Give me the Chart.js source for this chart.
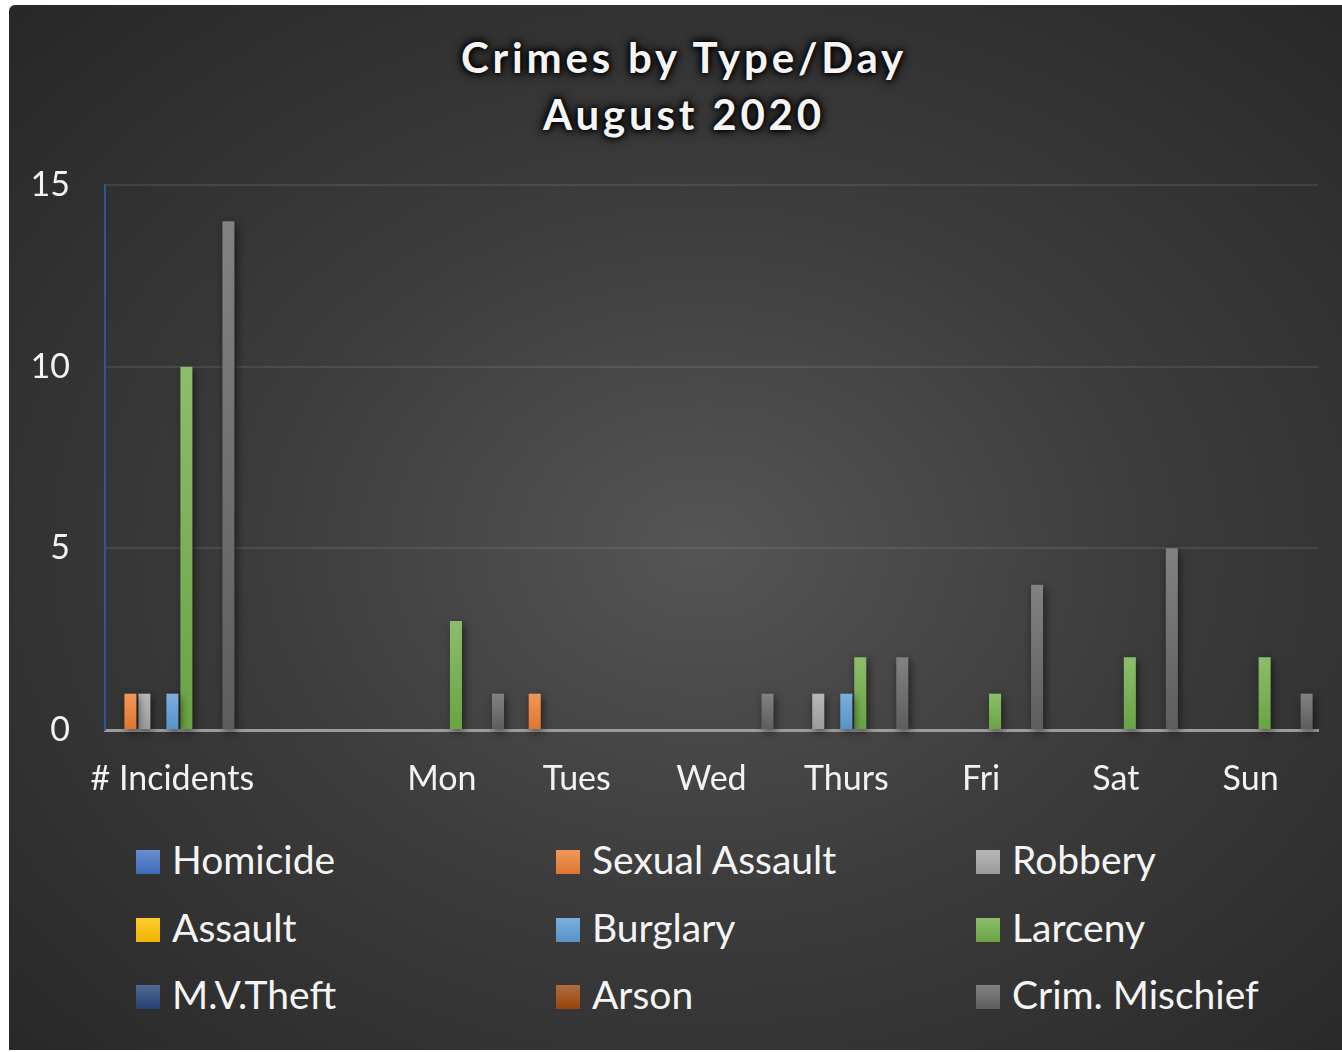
<!DOCTYPE html>
<html>
<head>
    <title>Crimes by Type/Day - August 2020</title>
    <meta charset="utf-8">
    <script src="https://cdn.jsdelivr.net/npm/chart.js"></script>
    <style>
        html, body {
            margin: 0;
            padding: 0;
            background: #ffffff;
        }

        body {
            position: relative;
            width: 1342px;
            height: 1052px;
            overflow: hidden;
            font-family: Lato, "Open Sans", sans-serif;
        }

        .panel {
            position: absolute;
            left: 9px;
            top: 5px;
            width: 1333px;
            height: 1045px;
            border-top-left-radius: 6px;
            background: radial-gradient(ellipse 75% 75% at 52% 52%, #555555 0%, #3c3c3c 45%, #262626 100%);
        }

        .title {
            position: absolute;
            left: 0;
            top: 29px;
            width: 1368px;
            text-align: center;
            color: #f4f4f4;
            font-weight: bold;
            font-size: 42px;
            line-height: 57px;
            letter-spacing: 3.8px;
            text-shadow: 0 0 5px #000, 0 0 9px #000, 0 0 12px rgba(0, 0, 0, 0.8);
        }

        #chart {
            position: absolute;
            left: 0;
            top: 0;
        }

        .legend {
            position: absolute;
            left: 136px;
            top: 826px;
            display: grid;
            grid-template-columns: 420px 420px 340px;
            color: #f4f4f4;
            font-size: 39px;
        }

        .legend .item {
            display: flex;
            align-items: baseline;
            line-height: 67.5px;
            white-space: nowrap;
        }

        .legend .box {
            display: inline-block;
            width: 24px;
            height: 24px;
            margin-right: 12px;
        }
    </style>
</head>
<body>
    <div class="panel"></div>
    <div class="title">Crimes by Type/Day<br>August 2020</div>
    <canvas id="chart" width="1342" height="820"></canvas>
    <div class="legend" id="legend"></div>

    <script>
        // categories (the second one is a blank row in the source sheet)
        var days = ['# Incidents', '', 'Mon', 'Tues', 'Wed', 'Thurs', 'Fri', 'Sat', 'Sun'];

        var seriesNames = ['Homicide', 'Sexual Assault', 'Robbery', 'Assault', 'Burglary',
                           'Larceny', 'M.V.Theft', 'Arson', 'Crim. Mischief'];

        var homicide      = [0, 0, 0, 0, 0, 0, 0, 0, 0];
        var sexualAssault = [1, 0, 0, 1, 0, 0, 0, 0, 0];
        var robbery       = [1, 0, 0, 0, 0, 1, 0, 0, 0];
        var assault       = [0, 0, 0, 0, 0, 0, 0, 0, 0];
        var burglary      = [1, 0, 0, 0, 0, 1, 0, 0, 0];
        var larceny       = [10, 0, 3, 0, 0, 2, 1, 2, 2];
        var mvTheft       = [0, 0, 0, 0, 0, 0, 0, 0, 0];
        var arson         = [0, 0, 0, 0, 0, 0, 0, 0, 0];
        var crimMischief  = [14, 0, 1, 0, 1, 2, 4, 5, 1];

        var yTicks = [0, 5, 10, 15];

        var seriesData = [homicide, sexualAssault, robbery, assault, burglary,
                          larceny, mvTheft, arson, crimMischief];
        var seriesColors = ['#4472C4', '#ED7D31', '#A5A5A5', '#FFC000', '#5B9BD5',
                            '#70AD47', '#264478', '#9E480E', '#636363'];

        function mix(hex, other, t) {
            var a = parseInt(hex.slice(1), 16), b = parseInt(other.slice(1), 16);
            var r = Math.round(((a >> 16) & 255) * (1 - t) + ((b >> 16) & 255) * t);
            var g = Math.round(((a >> 8) & 255) * (1 - t) + ((b >> 8) & 255) * t);
            var bl = Math.round((a & 255) * (1 - t) + (b & 255) * t);
            return 'rgb(' + r + ',' + g + ',' + bl + ')';
        }

        // light-to-dark fill on each bar, like the Office style
        function barFill(base) {
            return function (ctx) {
                var chart = ctx.chart, y = chart.scales.y;
                if (ctx.type !== 'data' || !y || !ctx.raw) return base;
                var top = y.getPixelForValue(ctx.raw), bottom = y.getPixelForValue(0);
                if (!(bottom > top)) return base;
                var g = chart.ctx.createLinearGradient(0, top, 0, bottom);
                g.addColorStop(0, mix(base, '#ffffff', 0.2));
                g.addColorStop(1, mix(base, '#000000', 0.06));
                return g;
            };
        }

        var barShadow = {
            id: 'barShadow',
            beforeDatasetsDraw: function (chart) {
                var c = chart.ctx;
                c.save();
                c.shadowColor = 'rgba(0,0,0,0.55)';
                c.shadowBlur = 8;
                c.shadowOffsetX = 2;
                c.shadowOffsetY = 3;
            },
            afterDatasetsDraw: function (chart) {
                chart.ctx.restore();
            }
        };

        var tickFont = { family: 'Lato, "Open Sans", sans-serif', size: 34 };

        var ctx = document.getElementById('chart').getContext('2d');
        var chart = new Chart(ctx, {
            type: 'bar',
            data: {
                labels: days,
                datasets: seriesNames.map(function (name, i) {
                    return {
                        label: name,
                        data: seriesData[i],
                        backgroundColor: barFill(seriesColors[i]),
                        borderWidth: 0,
                        categoryPercentage: 0.935,
                        barPercentage: 0.86,
                        clip: false
                    };
                })
            },
            options: {
                responsive: false,
                animation: false,
                layout: { padding: { top: 185, right: 24, left: 0, bottom: 0 } },
                plugins: {
                    legend: { display: false },
                    title: { display: false },
                    tooltip: { enabled: false }
                },
                scales: {
                    x: {
                        grid: { display: false },
                        border: { display: true, color: '#9c9c9c', width: 3 },
                        ticks: { color: '#f2f2f2', font: tickFont, padding: 21, maxRotation: 0, autoSkip: false },
                        afterFit: function (s) { s.height = 90; }
                    },
                    y: {
                        min: 0,
                        max: 15,
                        afterBuildTicks: function (s) {
                            s.ticks = yTicks.map(function (v) { return { value: v }; });
                        },
                        grid: {
                            drawTicks: false,
                            lineWidth: 2,
                            color: function (c) { return c.tick && c.tick.value === 0 ? 'rgba(0,0,0,0)' : 'rgba(255,255,255,0.09)'; }
                        },
                        border: { display: true, color: '#2F5597', width: 2 },
                        ticks: { color: '#f2f2f2', font: tickFont, padding: 35 },
                        afterFit: function (s) { s.width = 105; }
                    }
                }
            },
            plugins: [barShadow]
        });

        // legend in three columns, built from the chart's datasets
        var legendEl = document.getElementById('legend');
        chart.data.datasets.forEach(function (ds, i) {
            var item = document.createElement('div');
            item.className = 'item';
            var box = document.createElement('span');
            box.className = 'box';
            box.style.background = 'linear-gradient(' + mix(seriesColors[i], '#ffffff', 0.2) + ', ' + mix(seriesColors[i], '#000000', 0.06) + ')';
            var text = document.createElement('span');
            text.textContent = ds.label;
            item.appendChild(box);
            item.appendChild(text);
            legendEl.appendChild(item);
        });
    </script>
</body>
</html>
